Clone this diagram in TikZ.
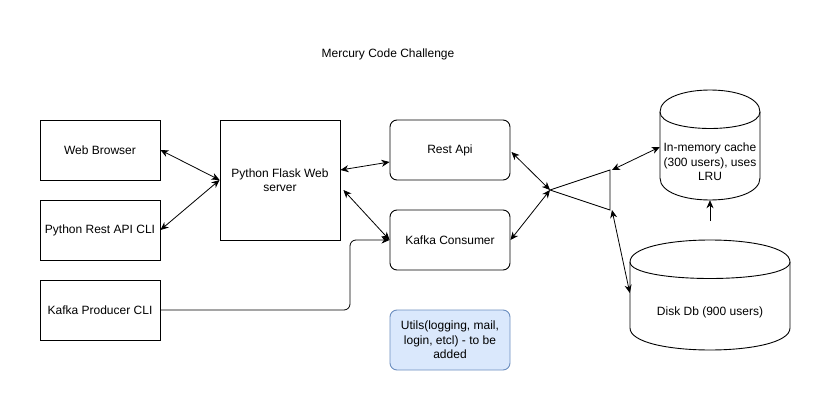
\documentclass[tikz,border=0pt]{standalone}
\usepackage{fontspec}
\setmainfont{Liberation Sans}
\usetikzlibrary{arrows.meta,calc}

\definecolor{todofill}{HTML}{DAE8FC}
\definecolor{todoline}{HTML}{6C8EBF}
\tikzset{
  box/.style={draw, line width=0.9pt, minimum width=120pt, minimum height=60pt, align=center, inner sep=2pt},
  svc/.style={box, rounded corners=7pt},
  todo/.style={svc, fill=todofill, draw=todoline},
  dbtext/.style={align=center, minimum width=100pt, inner sep=0pt},
  link/.style={line width=0.8pt, {Stealth[length=8pt,width=7pt,inset=2.5pt]}-{Stealth[length=8pt,width=7pt,inset=2.5pt]}},
  feed/.style={line width=0.8pt, -{Stealth[length=8pt,width=7pt,inset=2.5pt]}},
}

\begin{document}
\begin{tikzpicture}[x=1pt, y=-1pt, font=\fontsize{12}{14.5}\selectfont]
    \useasboundingbox (0,0) rectangle (831,412);

    \node (title) at (388,54) {Mercury Code Challenge};

    % clients
    \node[box] (browser) at (100,150) {Web Browser};
    \node[box] (restcli) at (100,230) {Python Rest API CLI};
    \node[box] (producer) at (100,310) {Kafka Producer CLI};

    \node[box, minimum height=120pt] (flask) at (280,180) {Python Flask Web\\ server};

    \node[svc] (restapi) at (450,150) {Rest Api};
    \node[svc] (consumer) at (450,240) {Kafka Consumer};
    \node[todo] (utils) at (450,340) {Utils(logging, mail,\\ login, etcl) - to be\\ added};

    % router
    \draw[line width=0.8pt] (550,190) coordinate (tip) -- (610,170) coordinate (tritop)
      -- (610,210) coordinate (tribot) -- cycle;

    % storage
    \draw[line width=0.9pt] (660,112) .. controls (660,82.67) and (760,82.67) .. (760,112)
      -- (760,178) .. controls (760,207.33) and (660,207.33) .. (660,178) -- cycle;
    \draw[line width=0.9pt] (660,112) .. controls (660,134) and (760,134) .. (760,112);
      \node[dbtext, minimum height=76pt] (cache) at (710,162) {In-memory cache\\ (300 users), uses\\ LRU};
    \draw[line width=0.9pt] (630,262) .. controls (630,232.67) and (790,232.67) .. (790,262)
      -- (790,328) .. controls (790,357.33) and (630,357.33) .. (630,328) -- cycle;
    \draw[line width=0.9pt] (630,262) .. controls (630,284) and (790,284) .. (790,262);
      \node[dbtext, minimum width=160pt] (disk) at (710,312) {Disk Db (900 users)};

    \draw[link] (browser.east) -- (flask.west);
    \draw[link] (restcli.east) -- (flask.west);
    \draw[link] ([yshift=10pt]flask.east) -- ([yshift=-12pt]restapi.west);
    \draw[link] ([xshift=3pt,yshift=-10pt]flask.east) -- (consumer.west);
    \draw[feed, rounded corners=6pt] (producer.east) -- (350,310) |- (consumer.west);

    \draw[link] ([xshift=1pt,yshift=-2pt]restapi.east) -- (tip);
    \draw[link] (consumer.east) -- (tip);
    \draw[link] ([xshift=2pt]tritop) -- ([yshift=15pt]cache.west);
    \draw[link] ([xshift=2pt]tribot) -- ([yshift=19pt]disk.west);

    \coordinate (lift) at (710,221);
    \draw[feed] (lift) -- (cache.south);
\end{tikzpicture}
\end{document}
